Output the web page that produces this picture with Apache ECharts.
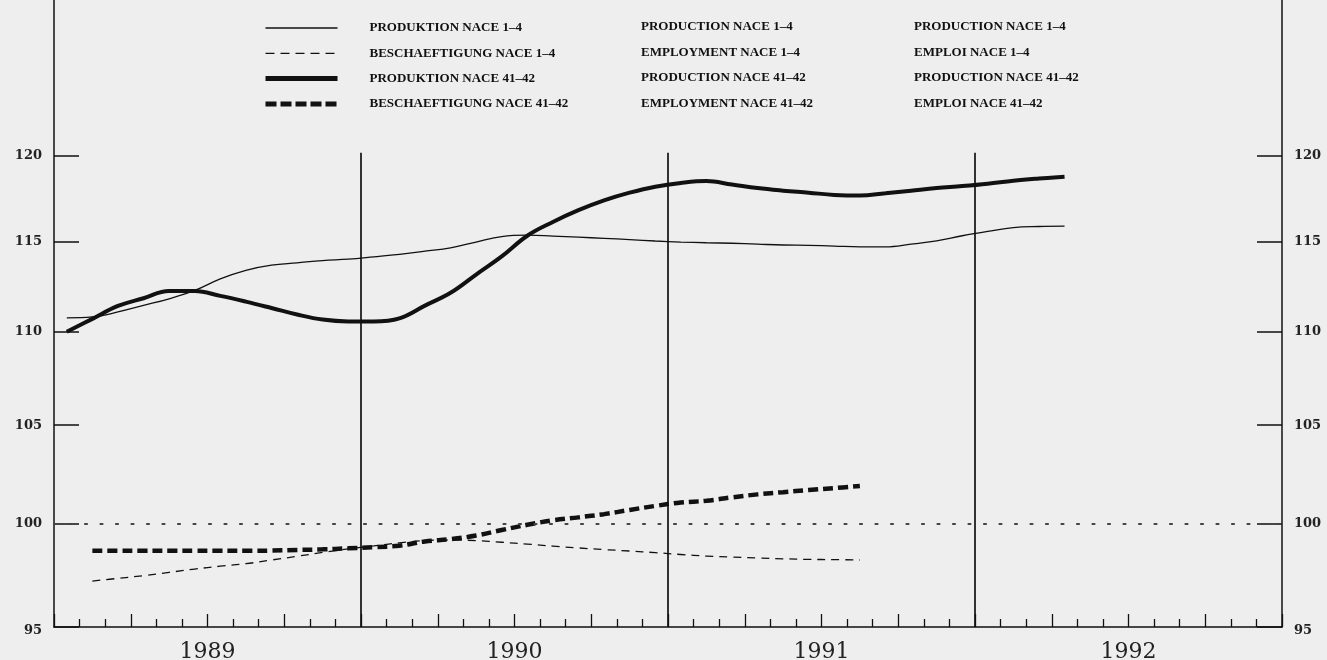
<!DOCTYPE html>
<html><head><meta charset="utf-8">
<script src="https://cdn.jsdelivr.net/npm/echarts@6/dist/echarts.min.js"></script>
<style>html,body{margin:0;padding:0;background:#eeeeee}#c{width:1327px;height:660px}</style>
</head><body><div id="c"></div>
<script>
// ---- data ----
const years = ['1989', '1990', '1991', '1992'];
const yTicks = [95, 100, 105, 110, 115, 120];
const namesDE = ['PRODUKTION NACE 1–4', 'BESCHAEFTIGUNG NACE 1–4', 'PRODUKTION NACE 41–42', 'BESCHAEFTIGUNG NACE 41–42'];
const namesEN = ['PRODUCTION NACE 1–4', 'EMPLOYMENT NACE 1–4', 'PRODUCTION NACE 41–42', 'EMPLOYMENT NACE 41–42'];
const namesFR = ['PRODUCTION NACE 1–4', 'EMPLOI NACE 1–4', 'PRODUCTION NACE 41–42', 'EMPLOI NACE 41–42'];
// monthly values, Jan 1989 onwards (null = no value)
const prod14 = [110.75, 110.8, 111.07, 111.43, 111.80, 112.26, 112.91, 113.39, 113.68, 113.81, 113.94, 114.02,
  114.15, 114.29, 114.47, 114.66, 114.99, 115.30, 115.38, 115.33, 115.27, 115.20, 115.13, 115.05,
  114.99, 114.95, 114.92, 114.87, 114.82, 114.80, 114.76, 114.72, 114.72, 114.87, 115.06, 115.35,
  115.60, 115.82, 115.88, 115.90];
const empl14 = [null, 97.19, 97.32, 97.45, 97.61, 97.77, 97.91, 98.03, 98.21, 98.39, 98.58, 98.75,
  98.90, 99.05, 99.16, 99.19, 99.16, 99.08, 98.99, 98.89, 98.80, 98.72, 98.65, 98.57,
  98.48, 98.40, 98.35, 98.31, 98.27, 98.24, 98.23, 98.21];
const prod4142 = [109.98, 110.69, 111.40, 111.83, 112.23, 112.23, 111.96, 111.64, 111.29, 110.93, 110.65, 110.55,
  110.55, 110.72, 111.42, 112.13, 113.15, 114.17, 115.35, 116.14, 116.82, 117.39, 117.84, 118.19,
  118.41, 118.52, 118.32, 118.11, 117.96, 117.84, 117.71, 117.67, 117.81, 117.96, 118.11, 118.23,
  118.37, 118.54, 118.67, 118.78];
const empl4142 = [null, 98.66, 98.66, 98.66, 98.66, 98.66, 98.66, 98.66, 98.67, 98.70, 98.73, 98.78,
  98.84, 98.91, 99.12, 99.23, 99.41, 99.68, 99.94, 100.16, 100.31, 100.47, 100.68, 100.88,
  101.05, 101.14, 101.31, 101.46, 101.57, 101.68, 101.78, 101.88];
const yearBoundaries = [12, 24, 36];   // months since Jan 1989
const refLevel = 100;

// ---- helpers ----
function toPoints(arr) {
  const out = [];
  arr.forEach((v, i) => { if (v != null) out.push([i + 0.5, v]); });  // mid-month
  return out;
}
const ink = '#111';
const legendFont = 'bold 13px "Liberation Serif"';
const styles = [
  { color: ink, width: 1.3, type: 'solid' },
  { color: ink, width: 1.3, type: [8, 6] },
  { color: ink, width: 4, type: 'solid' },
  { color: ink, width: 4.5, type: [10, 5] }
];
const legendStyles = [
  { color: ink, width: 1.3, type: 'solid' },
  { color: ink, width: 1.3, type: [9, 6] },
  { color: ink, width: 5, type: 'solid' },
  { color: ink, width: 5, type: [11, 4] }
];
const seriesData = [prod14, empl14, prod4142, empl4142];

const chart = echarts.init(document.getElementById('c'), null, { renderer: 'canvas' });
const yAxisBase = (pos) => ({
  type: 'log', min: 95, max: 129.66, position: pos,
  axisLine: { show: true, lineStyle: { color: ink, width: 1.5 } },
  axisTick: { show: true, inside: true, length: 25, customValues: yTicks, lineStyle: { color: ink, width: 1.5 } },
  minorTick: { show: false },
  splitLine: { show: false },
  axisLabel: {
    customValues: yTicks, margin: 12, fontFamily: 'DejaVu Serif', fontWeight: 'bold', fontSize: 13, color: '#222',
    formatter: v => (v === yTicks[0] ? '{low|' + v + '}' : String(v)),
    rich: { low: { padding: [7, 0, 0, 0], fontFamily: 'DejaVu Serif', fontWeight: 'bold', fontSize: 13, color: '#222' } }
  }
});
const option = {
  backgroundColor: '#eeeeee',
  animation: false,
  grid: { left: 54, right: 45, top: 0, bottom: 33, containLabel: false, outerBoundsMode: 'none' },
  xAxis: {
    type: 'value', min: 0, max: 48, interval: 3,
    axisLine: { lineStyle: { color: ink, width: 1.5 } },
    axisTick: { inside: true, length: 13, lineStyle: { color: ink, width: 1.3 } },
    minorTick: { show: true, splitNumber: 3, length: 8, lineStyle: { color: ink, width: 1.3 } },
    splitLine: { show: false },
    axisLabel: {
      customValues: [6, 18, 30, 42],
      formatter: v => years[Math.floor(v / 12)],
      fontFamily: 'DejaVu Serif', fontSize: 22, color: '#222', margin: 14
    }
  },
  yAxis: [yAxisBase('left'), yAxisBase('right')],
  legend: {
    orient: 'vertical', left: 258, top: 16, itemWidth: 72, itemHeight: 14, itemGap: 11.3,
    data: namesDE.map((n, k) => ({ name: n, lineStyle: legendStyles[k] })),
    selectedMode: false,
    itemStyle: { opacity: 0 },
    textStyle: { fontFamily: 'Liberation Serif', fontWeight: 'bold', fontSize: 13, lineHeight: 10, color: ink, padding: [4, 0, 0, 27] }
  },
  graphic: [].concat(
    namesEN.map((t, k) => ({ type: 'text', x: 641, y: 27 + k * 25.4, style: { text: t, font: legendFont, fill: ink, verticalAlign: 'middle' } })),
    namesFR.map((t, k) => ({ type: 'text', x: 914, y: 27 + k * 25.4, style: { text: t, font: legendFont, fill: ink, verticalAlign: 'middle' } }))
  ),
  series: seriesData.map((arr, k) => {
    const s = {
      name: namesDE[k], type: 'line', data: toPoints(arr), smooth: 0.4, symbol: 'none',
      lineStyle: styles[k], itemStyle: { color: ink }
    };
    if (k === 0) {
      s.markLine = {
        silent: true, symbol: 'none', label: { show: false },
        data: yearBoundaries.map(m => [
          { coord: [m, 95], lineStyle: { color: ink, width: 1.7, type: 'solid' } },
          { coord: [m, 120.2] }
        ]).concat([{ yAxis: refLevel, lineStyle: { color: '#444', width: 2.2, type: [2, 13.5], cap: 'round' } }])
      };
    }
    return s;
  })
};
chart.setOption(option);
</script>
</body></html>
